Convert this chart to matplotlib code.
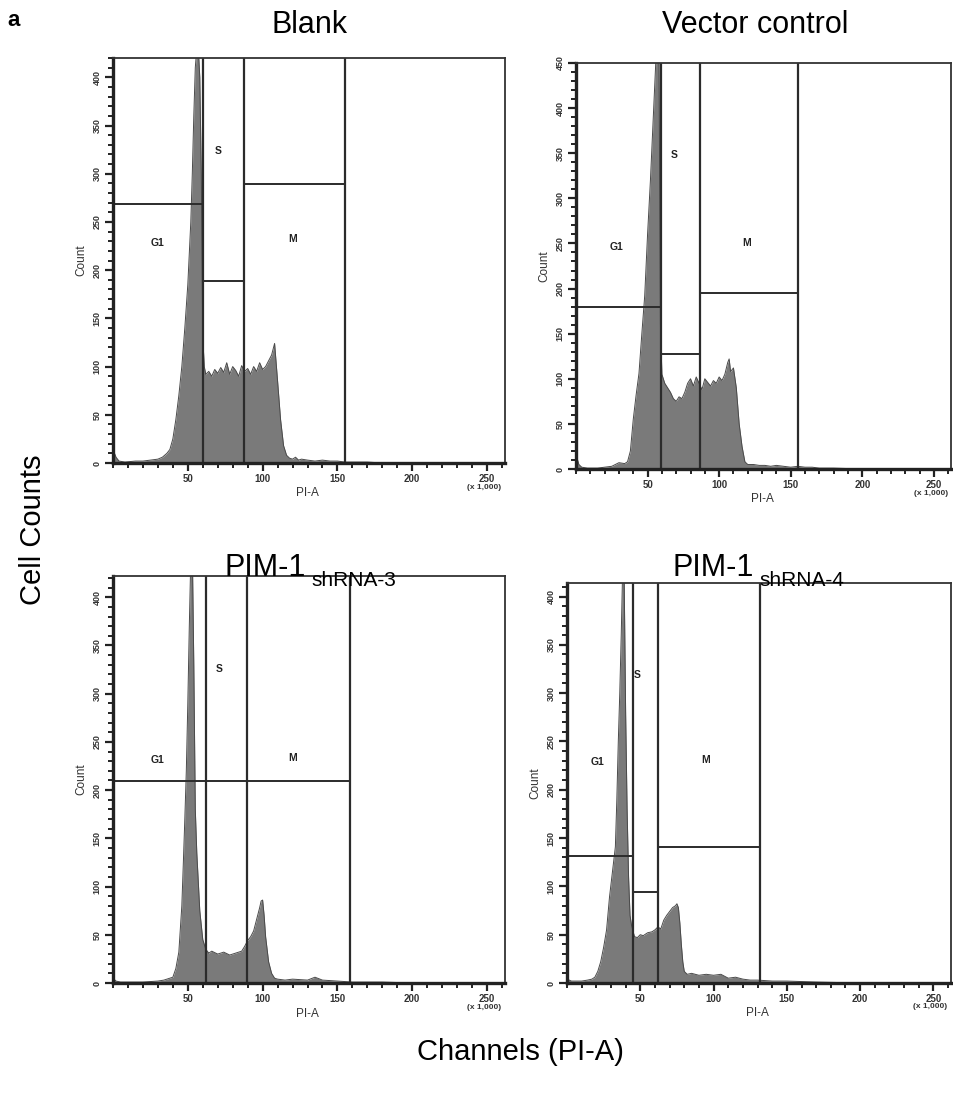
import matplotlib.pyplot as plt
import numpy as np
from matplotlib.ticker import MultipleLocator

plt.rcParams['font.family'] = ['Liberation Sans', 'DejaVu Sans']

# ---- data (channel x1000, cell count) ----
blank_x = [0, 2, 4, 8, 15, 20, 25, 30, 33, 36, 38, 40, 42, 44, 46, 48, 50, 52, 53, 54,
           55, 56, 57, 58, 59, 60, 61, 62, 64, 66, 68, 70, 72, 74, 76, 78, 80, 82, 84, 86,
           88, 90, 92, 94, 96, 98, 100, 102, 104, 106, 108, 110, 112, 114, 116, 118, 120, 122, 124, 126,
           130, 135, 140, 145, 150, 155, 160, 170, 180, 200, 230, 262]
blank_y = [14, 6, 2, 1, 2, 2, 3, 4, 6, 10, 14, 25, 45, 70, 100, 140, 185, 250, 300, 360,
           410, 430, 430, 400, 300, 130, 100, 92, 95, 90, 97, 93, 99, 94, 104, 92, 100, 96, 90, 101,
           95, 98, 92, 100, 95, 104, 97, 100, 106, 112, 124, 85, 45, 18, 8, 5, 4, 6, 3, 4,
           3, 2, 3, 2, 2, 1, 1, 1, 0, 0, 0, 0]

vector_x = [0, 2, 4, 8, 15, 20, 25, 30, 34, 36, 38, 40, 42, 44, 46, 48, 50, 52, 54, 55,
            56, 57, 58, 59, 60, 62, 64, 66, 68, 70, 72, 74, 76, 78, 80, 82, 84, 86, 88, 90,
            92, 94, 96, 98, 100, 102, 104, 106, 107, 108, 110, 112, 114, 116, 118, 120, 124, 128, 132, 136,
            140, 145, 150, 155, 160, 165, 170, 180, 200, 230, 262]
vector_y = [16, 5, 2, 1, 1, 2, 3, 7, 6, 8, 20, 55, 82, 106, 150, 192, 260, 320, 390, 425,
            460, 470, 450, 160, 105, 95, 90, 85, 78, 75, 80, 78, 85, 95, 100, 92, 102, 95, 88, 100,
            96, 92, 98, 95, 102, 98, 105, 118, 122, 108, 112, 90, 50, 25, 8, 5, 5, 4, 4, 3,
            4, 3, 2, 3, 2, 2, 1, 1, 0, 0, 0]

sh3_x = [0, 2, 5, 10, 20, 30, 34, 38, 40, 42, 44, 46, 47, 48, 49, 50, 51, 52, 53, 54,
         55, 56, 57, 58, 60, 62, 64, 66, 70, 74, 78, 82, 86, 88, 90, 92, 94, 96, 97, 98,
         99, 100, 101, 102, 104, 106, 108, 110, 115, 120, 130, 135, 140, 150, 160, 170, 180, 200, 230, 262]
sh3_y = [5, 2, 1, 1, 1, 2, 3, 5, 6, 15, 32, 80, 124, 170, 220, 290, 370, 440, 450, 330,
         180, 135, 105, 75, 45, 35, 31, 33, 30, 32, 29, 31, 33, 38, 44, 48, 54, 66, 72, 78,
         85, 86, 70, 48, 22, 10, 5, 4, 3, 4, 3, 6, 3, 2, 1, 1, 1, 0, 0, 0]

sh4_x = [0, 3, 6, 10, 14, 17, 19, 21, 23, 25, 27, 29, 31, 33, 34, 35, 36, 37, 38, 39,
         40, 41, 42, 43, 44, 46, 48, 50, 52, 55, 58, 60, 62, 64, 66, 68, 70, 72, 74, 75,
         76, 77, 78, 79, 80, 82, 85, 90, 95, 100, 105, 110, 115, 120, 125, 130, 140, 150, 170, 200,
         230, 262]
sh4_y = [4, 2, 2, 2, 3, 4, 6, 12, 22, 37, 55, 89, 115, 141, 190, 250, 300, 360, 430, 420,
         280, 180, 110, 70, 60, 48, 47, 50, 49, 52, 53, 55, 58, 56, 65, 70, 74, 78, 80, 82,
         78, 62, 40, 22, 12, 9, 10, 8, 9, 8, 9, 5, 6, 4, 3, 3, 2, 2, 1, 0,
         0, 0]

# gate boundaries (right edge of G1, S, M) and gate marker heights
blank_gates = [60, 87.3, 155.3]
blank_heights = [269, 189, 289]
vector_gates = [59.4, 86.6, 155]
vector_heights = [180, 127, 195]
sh3_gates = [62.2, 89.6, 158.4]
sh3_heights = [209, 209, 209]
sh4_gates = [45, 62.3, 132]
sh4_heights = [131, 94, 141]

y_max = [420, 450, 422, 414]

FW, FH = 954, 1095
fig = plt.figure(figsize=(FW / 100, FH / 100), dpi=100)


def add_axes(l, r, t, b):
    return fig.add_axes([l / FW, 1 - b / FH, (r - l) / FW, (b - t) / FH])


def draw(ax, x, y, ymax, gates, heights, lab_pos):
    ax.fill_between(x, y, color='#7a7a7a', lw=0)
    ax.plot(x, y, color='#4a4a4a', lw=0.7)
    ax.set_xlim(0, 262)
    ax.set_ylim(0, ymax)
    lc = '#2b2b2b'
    edges = [0] + gates
    for g in gates:
        ax.axvline(g, color=lc, lw=1.6)
    for i, h in enumerate(heights):
        ax.plot([edges[i], edges[i + 1]], [h, h], color=lc, lw=1.4)
    for name, (px, py) in zip(['G1', 'S', 'M'], lab_pos):
        ax.text(px, py, name, fontsize=7.5, ha='center', va='center', color='#222222',
                fontweight='bold')
    ax.xaxis.set_major_locator(MultipleLocator(50))
    ax.xaxis.set_minor_locator(MultipleLocator(10))
    ax.yaxis.set_major_locator(MultipleLocator(50))
    ax.yaxis.set_minor_locator(MultipleLocator(10))
    ax.set_xticks([50, 100, 150, 200, 250])
    ax.set_xticklabels(['50', '100', '150', '200', '250'])
    ax.tick_params(which='major', direction='out', length=6, width=1.6, colors='#222222',
                   labelsize=7, pad=2)
    ax.tick_params(which='minor', direction='out', length=3.5, width=1.4, colors='#222222')
    for lb in ax.get_xticklabels():
        lb.set_fontweight('bold')
        lb.set_color('#333333')
    for lb in ax.get_yticklabels():
        lb.set_rotation(90)
        lb.set_va('center')
        lb.set_fontsize(6.5)
        lb.set_fontweight('bold')
        lb.set_color('#333333')
    for s in ['left', 'bottom']:
        ax.spines[s].set_linewidth(2.4)
        ax.spines[s].set_color('#222222')
    for s in ['top', 'right']:
        ax.spines[s].set_linewidth(1.3)
        ax.spines[s].set_color('#333333')
    ax.set_ylabel('Count', fontsize=8.5, labelpad=4, color='#333333')
    ax.text(130, -0.075 * ymax, 'PI-A', fontsize=8.5, ha='center', va='center', color='#333333')
    ax.text(248, -0.06 * ymax, '(x 1,000)', fontsize=6, ha='center', va='center',
            color='#333333', fontweight='bold')


ax1 = add_axes(113, 505, 58, 463)
draw(ax1, blank_x, blank_y, y_max[0], blank_gates, blank_heights,
     [(30, 228), (70, 324), (120, 232)])
ax2 = add_axes(576, 951, 63, 469)
draw(ax2, vector_x, vector_y, y_max[1], vector_gates, vector_heights,
     [(28, 246), (68.5, 348), (119, 250)])
ax3 = add_axes(113, 505, 576, 983)
draw(ax3, sh3_x, sh3_y, y_max[2], sh3_gates, sh3_heights,
     [(30, 231), (71, 326), (120, 233)])
ax4 = add_axes(567, 951, 583, 983)
draw(ax4, sh4_x, sh4_y, y_max[3], sh4_gates, sh4_heights,
     [(21, 229), (48, 319), (94.5, 231)])

fig.text(310 / FW, 1 - 25 / FH, 'Blank', fontsize=22, ha='center', va='center')
fig.text(755 / FW, 1 - 25 / FH, 'Vector control', fontsize=22, ha='center', va='center')
fig.text(306 / FW, 1 - 568 / FH, 'PIM-1', fontsize=22, ha='right', va='center')
fig.text(311 / FW, 1 - 581 / FH, 'shRNA-3', fontsize=15, ha='left', va='center')
fig.text(754 / FW, 1 - 568 / FH, 'PIM-1', fontsize=22, ha='right', va='center')
fig.text(759 / FW, 1 - 581 / FH, 'shRNA-4', fontsize=15, ha='left', va='center')
fig.text(14 / FW, 1 - 20 / FH, 'a', fontsize=16, fontweight='bold', ha='center', va='center')
fig.text(33 / FW, 1 - 530 / FH, 'Cell Counts', fontsize=21, rotation=90, ha='center',
         va='center')
fig.text(520 / FW, 1 - 1052 / FH, 'Channels (PI-A)', fontsize=21, ha='center', va='center')

fig.savefig('out.png', dpi=100)
